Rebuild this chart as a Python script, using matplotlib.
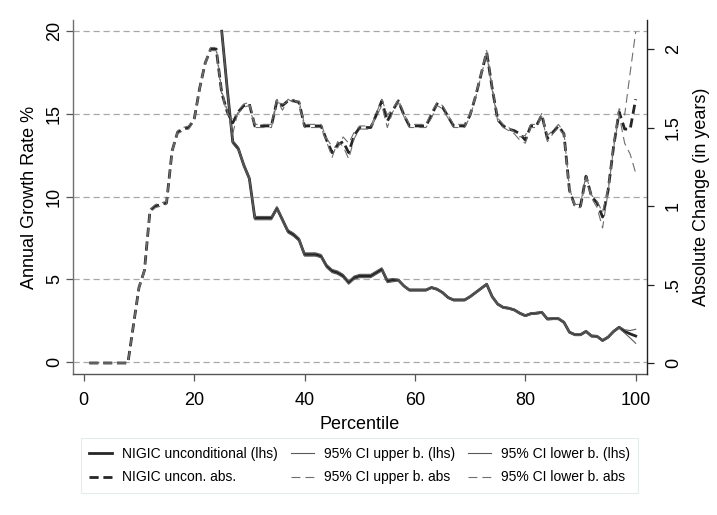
import matplotlib
matplotlib.use('Agg')
import matplotlib.pyplot as plt
from matplotlib.lines import Line2D

plt.rcParams['font.family'] = ['Liberation Sans', 'DejaVu Sans']

# ---------------- data ----------------
percentile = list(range(1, 101))
rate_pct = list(range(25, 101))

# NIGIC unconditional, annual growth rate % (lhs), percentiles 25..100
rate_main = [20.0, 16.5, 13.3, 12.9, 11.9, 11.1,
             8.7, 8.7, 8.7, 8.7, 9.3, 8.6, 7.9, 7.7, 7.4, 6.5,
             6.5, 6.5, 6.4, 5.8, 5.5, 5.4, 5.2, 4.8, 5.1, 5.2,
             5.2, 5.2, 5.4, 5.6, 4.9, 4.95, 4.95, 4.6, 4.35, 4.35,
             4.35, 4.35, 4.5, 4.4, 4.2, 3.9, 3.75, 3.75, 3.75, 3.95,
             4.2, 4.45, 4.7, 3.95, 3.5, 3.3, 3.25, 3.15, 2.95, 2.8,
             2.92, 2.95, 3.0, 2.6, 2.62, 2.62, 2.4, 1.8, 1.65, 1.65,
             1.85, 1.57, 1.55, 1.3, 1.5, 1.85, 2.1, 1.85, 1.7, 1.57]
rate_upper = [20.0, 16.6, 13.4, 13.0, 12.0, 11.2,
              8.8, 8.8, 8.8, 8.8, 9.4, 8.7, 8.0, 7.8, 7.5, 6.6,
              6.6, 6.6, 6.5, 5.9, 5.6, 5.5, 5.3, 4.9, 5.2, 5.3,
              5.3, 5.3, 5.5, 5.7, 5.0, 5.05, 5.0, 4.65, 4.4, 4.4,
              4.4, 4.4, 4.55, 4.45, 4.25, 3.95, 3.8, 3.8, 3.8, 4.0,
              4.25, 4.5, 4.75, 4.0, 3.55, 3.35, 3.3, 3.2, 3.0, 2.85,
              2.97, 3.0, 3.05, 2.65, 2.67, 2.67, 2.45, 1.85, 1.7, 1.7,
              1.9, 1.62, 1.6, 1.35, 1.55, 1.9, 2.15, 1.95, 1.9, 1.98]
rate_lower = [20.0, 16.4, 13.2, 12.8, 11.8, 11.0,
              8.6, 8.6, 8.6, 8.6, 9.2, 8.5, 7.8, 7.6, 7.3, 6.4,
              6.4, 6.4, 6.3, 5.7, 5.4, 5.3, 5.1, 4.7, 5.0, 5.1,
              5.1, 5.1, 5.3, 5.5, 4.8, 4.85, 4.9, 4.55, 4.3, 4.3,
              4.3, 4.3, 4.45, 4.35, 4.15, 3.85, 3.7, 3.7, 3.7, 3.9,
              4.15, 4.4, 4.65, 3.9, 3.45, 3.25, 3.2, 3.1, 2.9, 2.75,
              2.87, 2.9, 2.95, 2.55, 2.57, 2.57, 2.35, 1.75, 1.6, 1.6,
              1.8, 1.52, 1.5, 1.25, 1.45, 1.8, 2.05, 1.75, 1.45, 1.13]

# NIGIC unconditional, absolute change in years (rhs), percentiles 1..100
abs_main = [0, 0, 0, 0, 0, 0, 0, 0,
            0.24, 0.48, 0.59, 0.97, 1.00, 1.01, 1.02, 1.35, 1.47, 1.49, 1.50, 1.55,
            1.75, 1.91, 2.00, 2.00, 1.72, 1.60, 1.53, 1.60, 1.64, 1.65,
            1.51, 1.51, 1.51, 1.51, 1.67, 1.64, 1.67, 1.67, 1.66, 1.51,
            1.51, 1.51, 1.51, 1.42, 1.34, 1.39, 1.41, 1.34, 1.45, 1.50,
            1.50, 1.50, 1.58, 1.67, 1.54, 1.61, 1.67, 1.58, 1.51, 1.51,
            1.51, 1.51, 1.58, 1.65, 1.63, 1.57, 1.51, 1.51, 1.51, 1.58,
            1.70, 1.84, 1.98, 1.75, 1.55, 1.51, 1.49, 1.48, 1.46, 1.42,
            1.51, 1.51, 1.58, 1.43, 1.47, 1.51, 1.46, 1.10, 1.00, 1.00,
            1.19, 1.06, 1.02, 0.93, 1.10, 1.38, 1.60, 1.49, 1.49, 1.68]
abs_upper = [0, 0, 0, 0, 0, 0, 0, 0,
             0.25, 0.49, 0.60, 0.98, 1.01, 1.02, 1.03, 1.36, 1.48, 1.50, 1.51, 1.56,
             1.76, 1.92, 2.01, 2.01, 1.73, 1.61, 1.46, 1.61, 1.65, 1.66,
             1.52, 1.52, 1.52, 1.52, 1.68, 1.61, 1.68, 1.66, 1.67, 1.52,
             1.52, 1.52, 1.52, 1.43, 1.38, 1.37, 1.44, 1.40, 1.47, 1.51,
             1.51, 1.51, 1.59, 1.68, 1.58, 1.62, 1.68, 1.59, 1.52, 1.52,
             1.52, 1.52, 1.60, 1.66, 1.64, 1.58, 1.52, 1.52, 1.52, 1.59,
             1.71, 1.85, 1.99, 1.76, 1.56, 1.52, 1.50, 1.47, 1.44, 1.45,
             1.52, 1.52, 1.59, 1.45, 1.48, 1.52, 1.47, 1.11, 1.01, 1.01,
             1.20, 1.07, 1.03, 0.96, 1.11, 1.39, 1.62, 1.58, 1.85, 2.11]
abs_lower = [0, 0, 0, 0, 0, 0, 0, 0,
             0.23, 0.47, 0.58, 0.96, 0.99, 1.00, 1.01, 1.34, 1.46, 1.48, 1.49, 1.54,
             1.74, 1.90, 1.99, 1.99, 1.71, 1.59, 1.55, 1.59, 1.63, 1.64,
             1.50, 1.50, 1.50, 1.50, 1.66, 1.65, 1.66, 1.68, 1.65, 1.50,
             1.50, 1.50, 1.50, 1.41, 1.31, 1.41, 1.38, 1.30, 1.43, 1.49,
             1.49, 1.49, 1.57, 1.64, 1.50, 1.60, 1.66, 1.57, 1.50, 1.50,
             1.50, 1.50, 1.56, 1.64, 1.62, 1.56, 1.50, 1.50, 1.50, 1.57,
             1.69, 1.83, 1.97, 1.74, 1.54, 1.50, 1.48, 1.46, 1.42, 1.40,
             1.50, 1.50, 1.57, 1.41, 1.46, 1.50, 1.45, 1.09, 0.99, 0.99,
             1.18, 1.05, 0.99, 0.86, 1.09, 1.37, 1.58, 1.40, 1.33, 1.21]

x_ticks = [0, 20, 40, 60, 80, 100]
left_ticks = [0, 5, 10, 15, 20]
right_ticks = [0, 0.5, 1, 1.5, 2]
right_labels = ['0', '.5', '1', '1.5', '2']

labels = ['NIGIC unconditional (lhs)', '95% CI upper b. (lhs)', '95% CI lower b. (lhs)',
          'NIGIC uncon. abs.', '95% CI upper b. abs', '95% CI lower b. abs']

# ---------------- styles ----------------
main_col = '#262626'
ci_col = '#5a5a5a'
ci_dash_col = '#6e6e6e'
main_solid = dict(color=main_col, lw=2.0, linestyle='-')
ci_solid = dict(color=ci_col, lw=0.8, linestyle='-')
main_dash = dict(color=main_col, lw=2.0, linestyle=(0, (3.3, 1.7)))
ci_dash = dict(color=ci_dash_col, lw=0.8, linestyle=(0, (8, 4.5)))

fig = plt.figure(figsize=(7.17, 5.15), dpi=100)
ax = fig.add_axes([0.1014, 0.2738, 0.8006, 0.6874])
ax2 = ax.twinx()

ax.plot(rate_pct, rate_main, **main_solid)
ax.plot(rate_pct, rate_upper, **ci_solid)
ax.plot(rate_pct, rate_lower, **ci_solid)
ax2.plot(percentile, abs_main, **main_dash)
ax2.plot(percentile, abs_upper, **ci_dash)
ax2.plot(percentile, abs_lower, **ci_dash)

ax.set_xlim(-2, 102)
ax.set_ylim(-0.726, 20.68)
ax2.set_ylim(-0.07, 2.185)

ax.set_xticks(x_ticks)
ax.set_yticks(left_ticks)
ax.set_yticklabels([str(t) for t in left_ticks])
ax2.set_yticks(right_ticks)
ax2.set_yticklabels(right_labels)

ax.yaxis.grid(True, color='#a8a8a8', lw=0.9, linestyle=(0, (5, 3)))
ax.set_axisbelow(True)

for s in ['top', 'right']:
    ax.spines[s].set_visible(False)
for s in ['top', 'left', 'bottom']:
    ax2.spines[s].set_visible(False)
ax.spines['left'].set_color('#707070')
ax.spines['bottom'].set_color('#555555')
ax2.spines['right'].set_color('#222222')
for sp in [ax.spines['left'], ax.spines['bottom'], ax2.spines['right']]:
    sp.set_linewidth(1.0)

ax.tick_params(axis='x', labelsize=13, length=5, width=0.9, color='#555555', pad=8)
ax.tick_params(axis='y', labelsize=13, length=5, width=0.9, color='#555555', pad=2)
ax2.tick_params(axis='y', labelsize=13, length=5, width=0.9, color='#222222', pad=8)
for lab in ax.get_yticklabels():
    lab.set_rotation(90)
    lab.set_va('center')
for lab in ax2.get_yticklabels():
    lab.set_rotation(90)
    lab.set_va('center')

ax.set_xlabel('Percentile', fontsize=13, labelpad=5)
ax.set_ylabel('Annual Growth Rate %', fontsize=13, labelpad=6)
ax2.set_ylabel('Absolute Change (in years)', fontsize=13, labelpad=8)

h = [Line2D([], [], **main_solid), Line2D([], [], **main_dash),
     Line2D([], [], **ci_solid), Line2D([], [], **ci_dash),
     Line2D([], [], **ci_solid), Line2D([], [], **ci_dash)]
l = [labels[0], labels[3], labels[1], labels[4], labels[2], labels[5]]
leg = fig.legend(h, l, ncol=3, loc='center', bbox_to_anchor=(0.5014, 0.096),
                 fontsize=10, frameon=True, fancybox=False, edgecolor='#dfe8e8',
                 handlelength=1.65, handletextpad=0.7, columnspacing=0.95,
                 labelspacing=0.7, borderpad=0.6)
leg.get_frame().set_linewidth(0.8)

fig.savefig('out.png', dpi=100)
